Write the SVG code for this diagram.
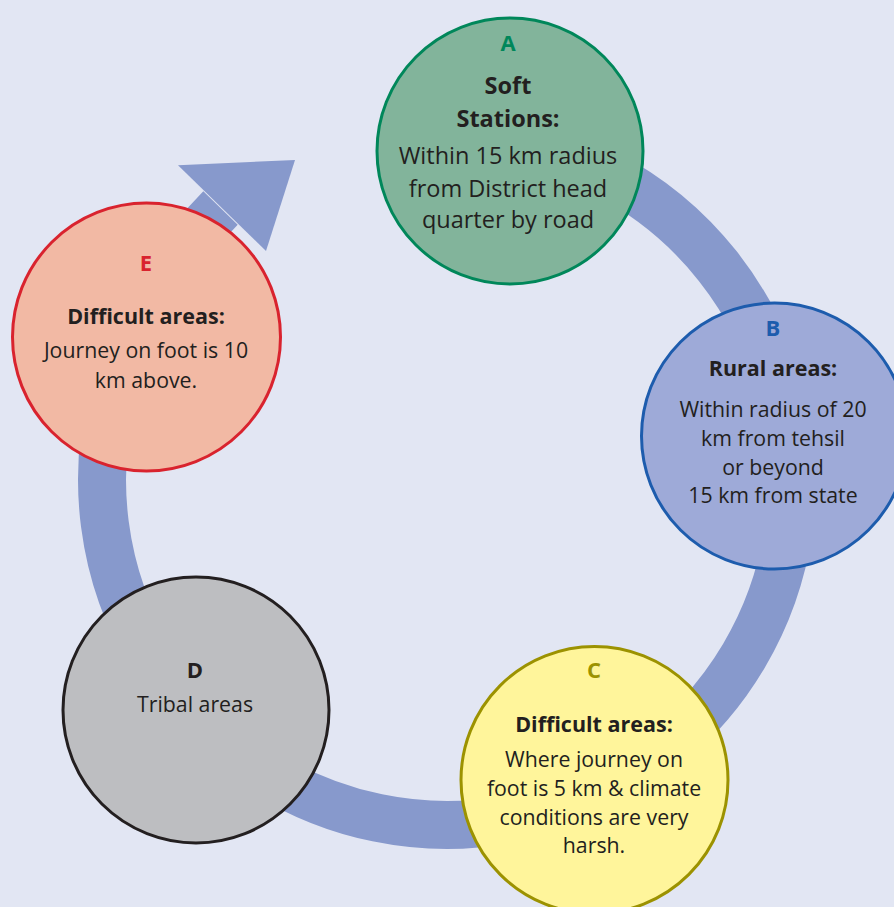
<svg xmlns="http://www.w3.org/2000/svg" width="894" height="907" viewBox="0 0 894 907">
<style>
.bg{fill:#e2e6f3}
.ring{fill:none;stroke:#8799cc;stroke-width:48;stroke-linecap:butt}
.head{fill:#8799cc}
.node{stroke-width:3}
text{font-family:"Open Sans","Noto Sans","Liberation Sans",sans-serif;text-anchor:middle;fill:#231f20}
.t{font-size:21.3px}
.tA{font-size:23.5px}
.h{font-size:21.5px;font-weight:bold}
.hA{font-size:23.5px;font-weight:bold}
.l{font-size:22px;font-weight:bold}
</style>
<rect class="bg" x="0" y="0" width="894" height="907"/>
<g id="connectors">
<path class="ring" d="M477.1,136.3 A345,345 0 1 1 113.8,390.7 C132.4,321.2 170.2,259.5 220.5,208"/>
<polygon class="head" points="178,165.3 295,160 266,251"/>
</g>
<g id="node-A">
<circle class="node" cx="510" cy="151" r="133" fill="#82b49b" stroke="#00875a"/>
<text class="l" x="508" y="51" style="fill:#00875a">A</text>
<text class="hA" x="508" y="94">Soft</text>
<text class="hA" x="508" y="127">Stations:</text>
<text class="tA" x="508" y="164">Within 15 km radius</text>
<text class="tA" x="508" y="197">from District head</text>
<text class="tA" x="508" y="228">quarter by road</text>
</g>
<g id="node-B">
<circle class="node" cx="774.5" cy="436" r="133" fill="#9eaad8" stroke="#1d5cad"/>
<text class="l" x="773" y="336" style="fill:#1d5cad">B</text>
<text class="h" x="773" y="376">Rural areas:</text>
<text class="t" x="773" y="417">Within radius of 20</text>
<text class="t" x="773" y="446">km from tehsil</text>
<text class="t" x="773" y="475">or beyond</text>
<text class="t" x="773" y="503">15 km from state</text>
</g>
<g id="node-C">
<circle class="node" cx="594.5" cy="780" r="133.5" fill="#fff59b" stroke="#9c9200"/>
<text class="l" x="594" y="678" style="fill:#9c9200">C</text>
<text class="h" x="594" y="732">Difficult areas:</text>
<text class="t" x="594" y="767">Where journey on</text>
<text class="t" x="594" y="796">foot is 5 km &amp; climate</text>
<text class="t" x="594" y="825">conditions are very</text>
<text class="t" x="594" y="853">harsh.</text>
</g>
<g id="node-D">
<circle class="node" cx="196" cy="710" r="133" fill="#bdbec1" stroke="#231f20"/>
<text class="l" x="195" y="678">D</text>
<text class="t" x="195" y="712">Tribal areas</text>
</g>
<g id="node-E">
<circle class="node" cx="146.5" cy="337" r="134" fill="#f2b9a4" stroke="#d9232e"/>
<text class="l" x="146" y="271" style="fill:#d9232e">E</text>
<text class="h" x="146" y="324">Difficult areas:</text>
<text class="t" x="146" y="358">Journey on foot is 10</text>
<text class="t" x="146" y="388">km above.</text>
</g>
</svg>
